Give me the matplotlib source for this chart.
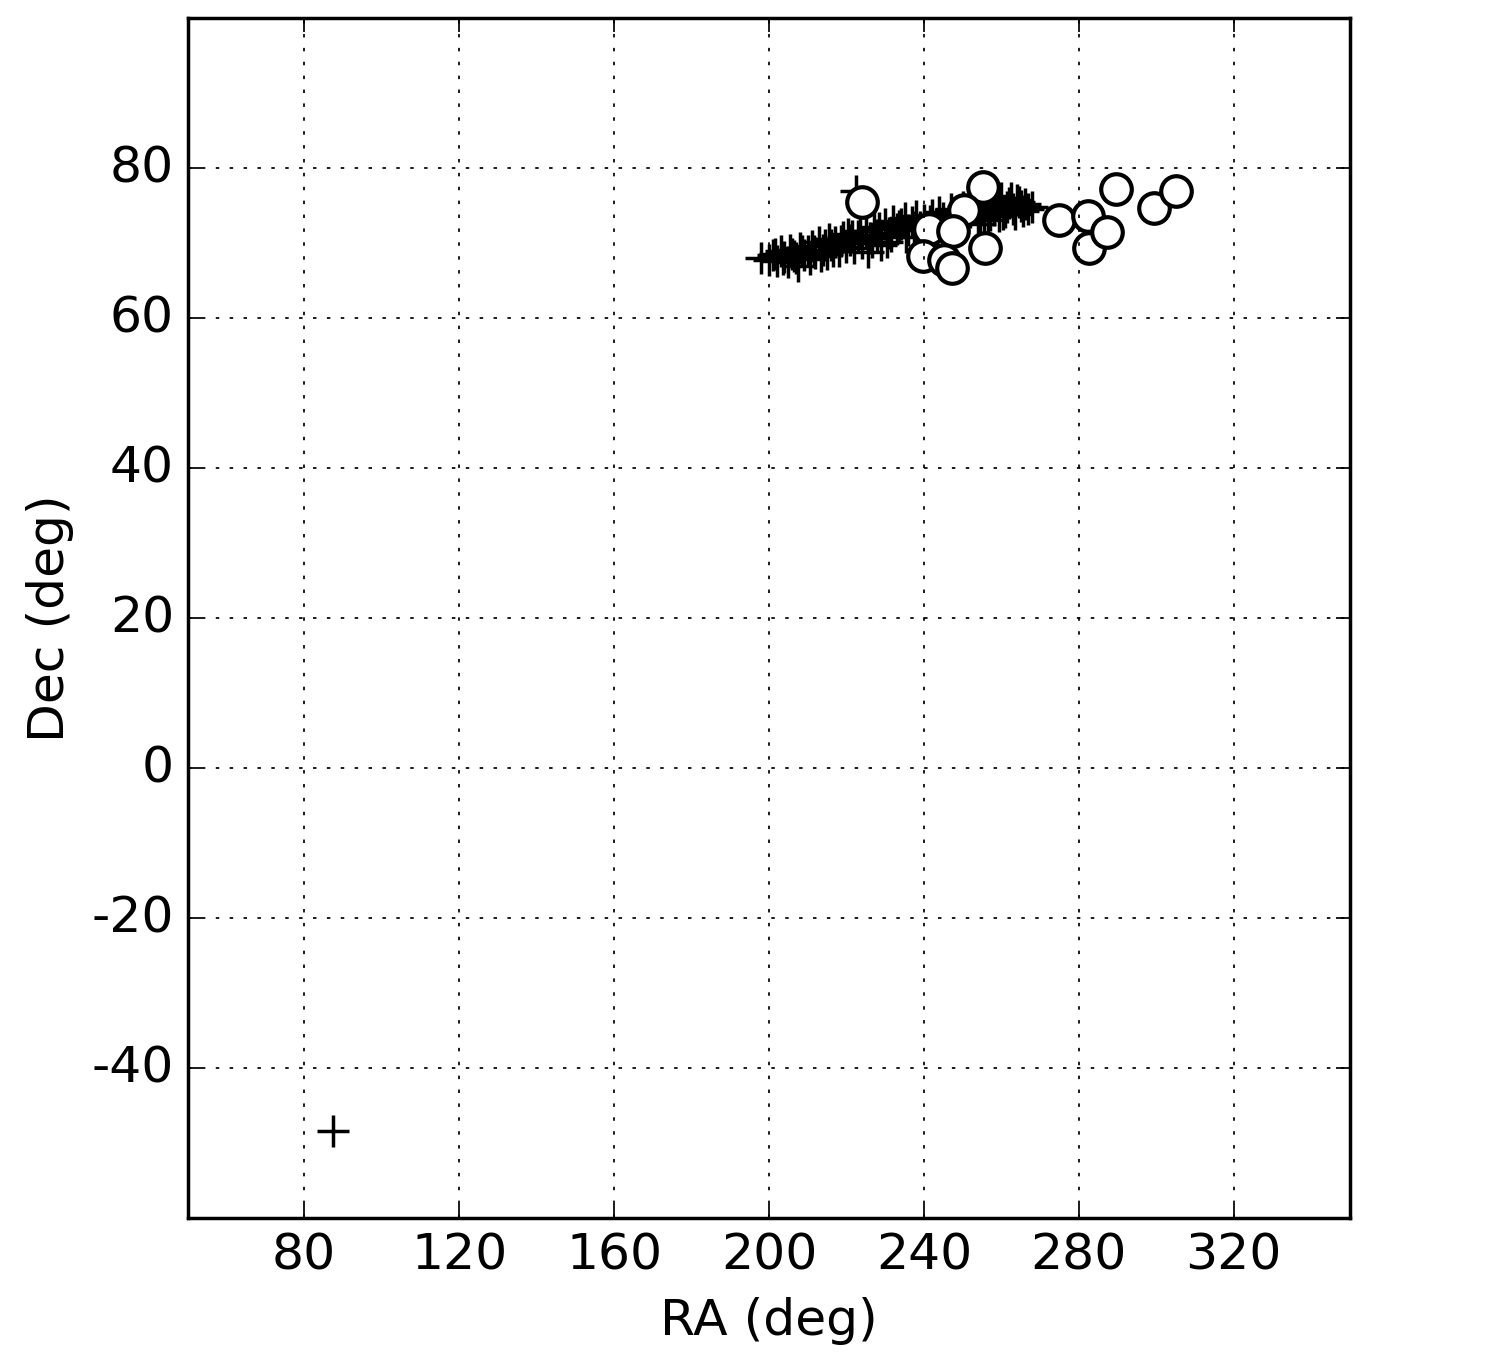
import numpy as np
import matplotlib
matplotlib.use('Agg')
import matplotlib.pyplot as plt

plt.style.use('classic')
plt.rcParams['axes.unicode_minus'] = False
plt.rcParams['font.size'] = 14.5

# crosses: dense track plus one isolated point
ra_plus = [198, 200, 201, 202, 203, 204, 205, 205.5, 206, 207, 208, 209, 210, 210.5,
           211, 212, 213, 214, 215, 215.5, 216, 217, 218, 219, 220, 220.5, 221, 222,
           222.5, 223, 224, 225, 226, 227, 228, 229, 230, 231, 232, 233, 234, 235,
           236, 237, 238, 239, 240, 241, 242, 243, 244, 245, 246, 247, 248, 249,
           250, 251, 252, 253, 254, 255, 256, 257, 258, 259, 260, 261, 262, 263,
           264, 265, 266, 267, 268, 250.5, 252.5, 254.5, 256.5, 258.5, 260.5, 262.5,
           245.5, 235.5, 230.5, 225.5, 213.5, 207.5,
           201.5, 203.5, 206.5, 208.5, 211.5, 214.5, 216.5, 218.5, 221.5, 223.5,
           226.5, 228.5, 231.5, 233.5, 237.5, 241.5, 243.5, 247.5, 251.5, 253.5,
           255.5, 257.5, 259.5, 261.5, 263.5, 264.5, 265.5, 87.4]
dec_plus = [68.0, 67.8, 68.4, 67.6, 68.9, 68.2, 67.5, 69.1, 68.6, 68.0, 69.3, 68.4, 69.0, 67.9,
            69.6, 68.7, 70.2, 69.1, 68.5, 70.6, 69.7, 70.1, 68.9, 70.8, 69.5, 71.2, 70.4, 69.3,
            77.0, 71.0, 70.0, 71.6, 70.7, 72.2, 71.1, 69.8, 72.5, 71.4, 72.9, 71.9, 72.6, 73.4,
            71.8, 72.8, 73.6, 72.2, 73.1, 71.5, 73.8, 72.6, 74.2, 73.3, 72.4, 74.6, 73.0, 73.9,
            74.8, 72.9, 74.1, 75.3, 73.5, 74.7, 75.6, 73.8, 74.4, 75.1, 76.0, 74.2, 75.4, 74.6,
            75.8, 74.9, 75.2, 74.6, 74.8, 73.4, 75.9, 72.6, 73.1, 76.3, 73.9, 76.0,
            70.9, 70.8, 70.2, 68.8, 68.3, 67.0,
            68.5, 67.9, 68.3, 69.0, 68.9, 69.8, 68.9, 70.3, 70.9, 71.6,
            70.1, 72.0, 70.9, 72.3, 72.1, 73.0, 71.8, 73.5, 73.7, 74.5,
            73.2, 75.1, 73.6, 74.8, 73.9, 75.5, 74.3, -48.4]

# open circles
ra_circ = [223.9, 255.2, 250.3, 241.2, 247.4, 239.7, 245.1, 247.2, 255.7,
           275.0, 282.3, 289.5, 282.5, 287.2, 299.3, 305.0]
dec_circ = [75.5, 77.5, 74.4, 71.9, 71.6, 68.3, 67.7, 66.7, 69.3,
            73.1, 73.6, 77.2, 69.3, 71.5, 74.7, 76.9]

fig = plt.figure(figsize=(6, 5.472), dpi=250)
ax = fig.add_axes([0.1253, 0.1096, 0.7747, 0.8772])

ax.plot(ra_plus, dec_plus, '+', color='k', markersize=9.5, markeredgewidth=1.0)
ax.plot(ra_circ, dec_circ, 'o', markerfacecolor='white', markeredgecolor='k',
        markersize=8.8, markeredgewidth=1.2)

ax.set_xlim(50, 350)
ax.set_ylim(-60, 100)
ax.set_xticks(np.arange(80, 321, 40))
ax.set_yticks(np.arange(-40, 81, 20))
ax.grid(True)
ax.set_xlabel('RA (deg)')
ax.set_ylabel('Dec (deg)')

fig.savefig('out.png', dpi=250)
